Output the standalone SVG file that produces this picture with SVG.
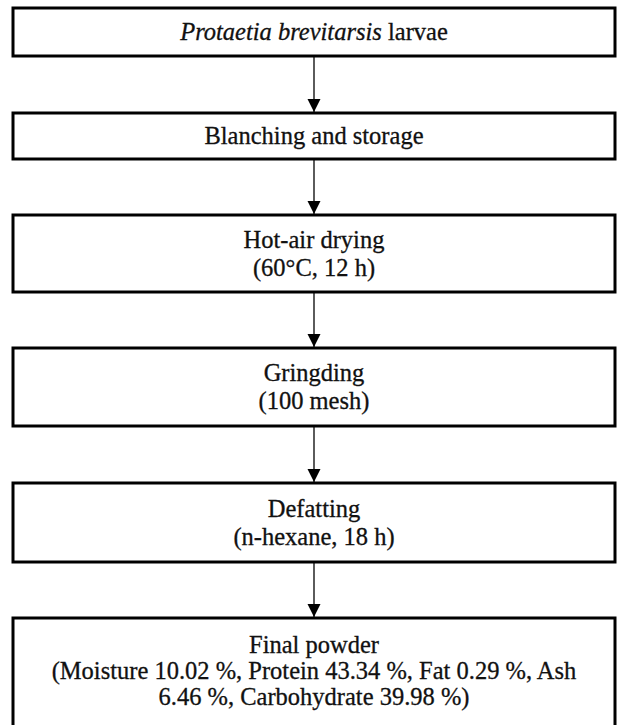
<svg xmlns="http://www.w3.org/2000/svg" width="618" height="725" viewBox="0 0 618 725">
  <style>
    .box { fill: #ffffff; stroke: #000000; stroke-width: 3; }
    .lbl { font-family: "Liberation Serif", "Times New Roman", serif; font-size: 24.5px; fill: #111111; stroke: #111111; stroke-width: 0.3; text-anchor: middle; }
    .conn { stroke: #333333; stroke-width: 1.6; fill: none; }
  </style>
  <defs>
    <marker id="arrow" markerUnits="userSpaceOnUse" markerWidth="14" markerHeight="14" viewBox="0 0 14 14" refX="13" refY="7" orient="auto">
      <path d="M0,0.5 L13,7 L0,13.5 Z" fill="#000000"/>
    </marker>
  </defs>
  <rect width="618" height="725" fill="#ffffff"/>

  <g id="connectors">
    <line class="conn" x1="314" y1="57" x2="314" y2="112" marker-end="url(#arrow)"/>
    <line class="conn" x1="314" y1="160" x2="314" y2="214" marker-end="url(#arrow)"/>
    <line class="conn" x1="314" y1="293" x2="314" y2="347" marker-end="url(#arrow)"/>
    <line class="conn" x1="314" y1="427" x2="314" y2="482" marker-end="url(#arrow)"/>
    <line class="conn" x1="314" y1="563" x2="314" y2="617" marker-end="url(#arrow)"/>
  </g>

  <g id="node-larvae">
    <rect class="box" x="13" y="8" width="602" height="48"/>
    <text class="lbl" x="314" y="40"><tspan font-style="italic">Protaetia brevitarsis</tspan> larvae</text>
  </g>

  <g id="node-blanching">
    <rect class="box" x="13" y="113" width="602" height="46"/>
    <text class="lbl" x="314" y="144">Blanching and storage</text>
  </g>

  <g id="node-drying">
    <rect class="box" x="13" y="215" width="602" height="77"/>
    <text class="lbl" x="314" y="247.5">Hot-air drying</text>
    <text class="lbl" x="314" y="275.5">(60°C, 12 h)</text>
  </g>

  <g id="node-grinding">
    <rect class="box" x="13" y="348" width="602" height="78"/>
    <text class="lbl" x="314" y="381">Gringding</text>
    <text class="lbl" x="314" y="409">(100 mesh)</text>
  </g>

  <g id="node-defatting">
    <rect class="box" x="13" y="483" width="602" height="79"/>
    <text class="lbl" x="314" y="516.5">Defatting</text>
    <text class="lbl" x="314" y="544.5">(n-hexane, 18 h)</text>
  </g>

  <g id="node-final">
    <rect class="box" x="13" y="618" width="602" height="112"/>
    <text class="lbl" x="314" y="653">Final powder</text>
    <text class="lbl" x="314" y="679">(Moisture 10.02 %, Protein 43.34 %, Fat 0.29 %, Ash</text>
    <text class="lbl" x="314" y="705">6.46 %, Carbohydrate 39.98 %)</text>
  </g>
</svg>
